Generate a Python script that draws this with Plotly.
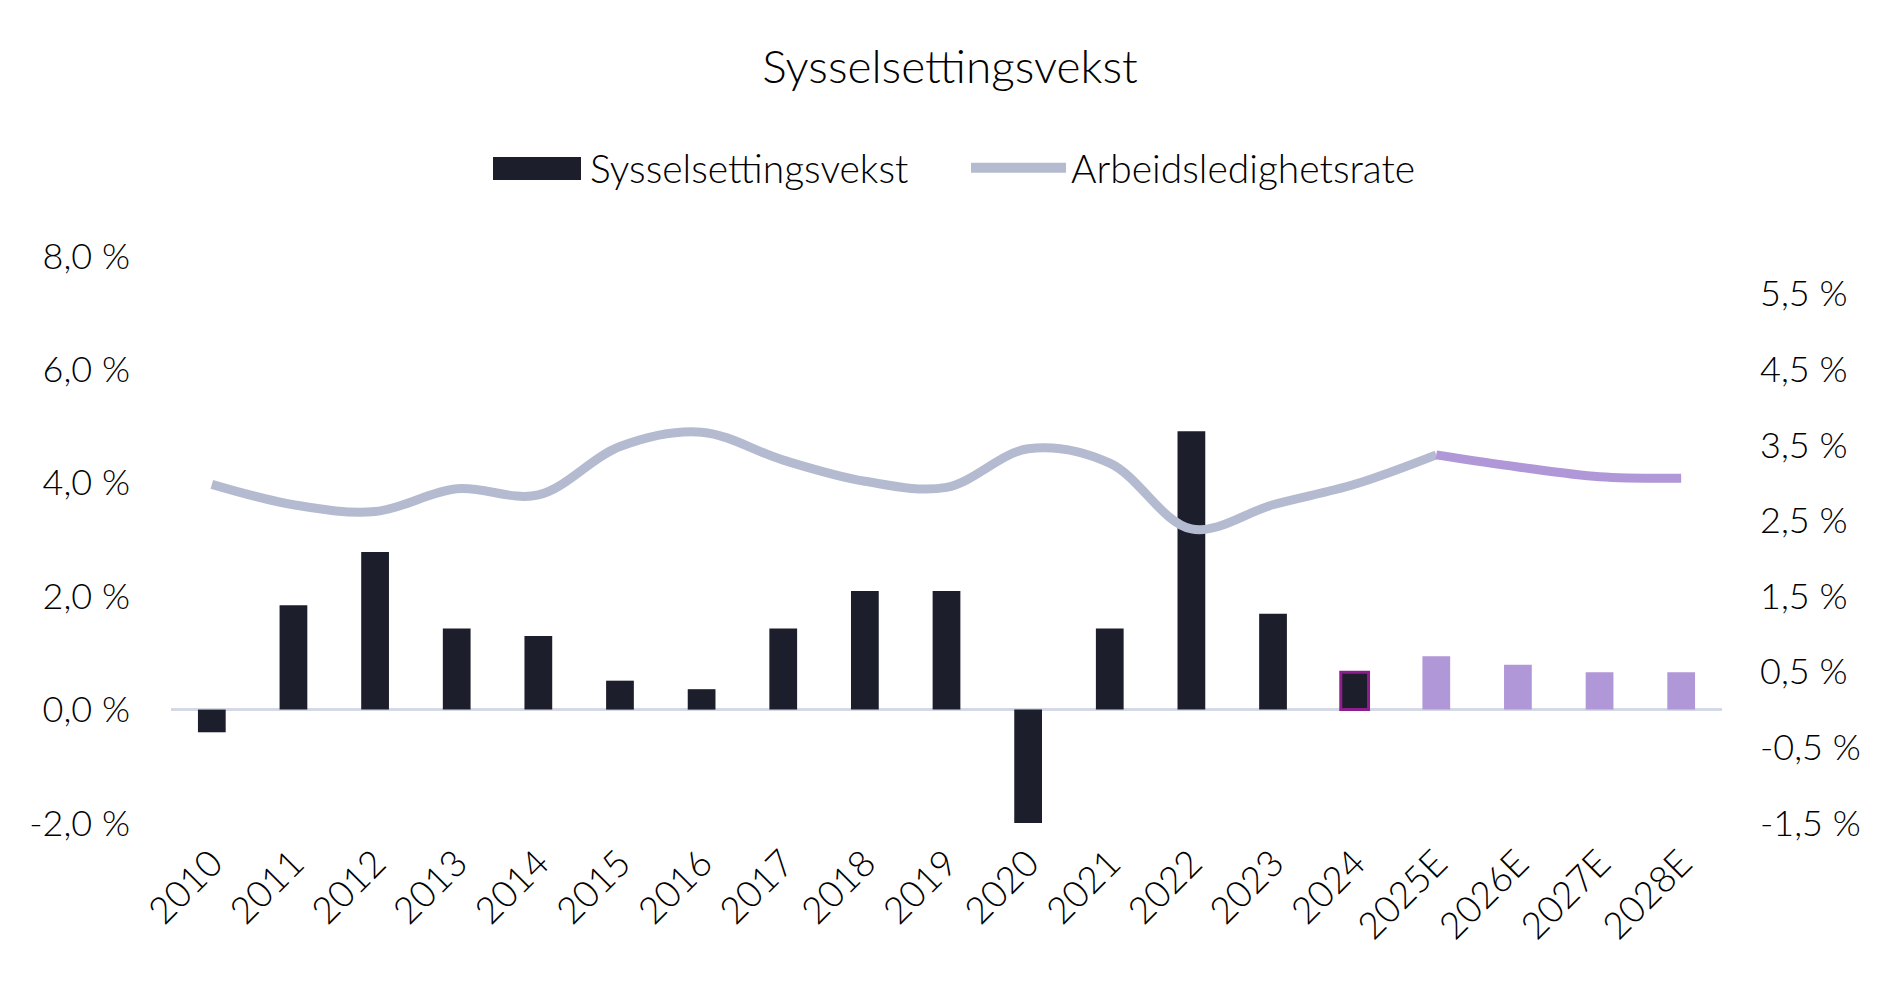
import plotly.graph_objects as go

years = ["2010", "2011", "2012", "2013", "2014", "2015", "2016", "2017", "2018", "2019",
         "2020", "2021", "2022", "2023", "2024", "2025E", "2026E", "2027E", "2028E"]
employment_growth = [-0.4, 1.84, 2.78, 1.43, 1.30, 0.51, 0.36, 1.43, 2.09, 2.09,
                     -2.0, 1.43, 4.91, 1.69, 0.66, 0.94, 0.79, 0.66, 0.66]
unemployment_rate = [2.98, 2.71, 2.62, 2.92, 2.84, 3.48, 3.67, 3.30, 3.02, 2.94,
                     3.45, 3.26, 2.39, 2.71, 2.98, 3.37, 3.21, 3.08, 3.06]
n_actual = 15  # 2010-2024 actual, rest forecast

left_ticks = [-2, 0, 2, 4, 6, 8]
left_labels = ["-2,0 %", "0,0 %", "2,0 %", "4,0 %", "6,0 %", "8,0 %"]
right_ticks = [-1.5, -0.5, 0.5, 1.5, 2.5, 3.5, 4.5, 5.5]
right_labels = ["-1,5 %", "-0,5 %", "0,5 %", "1,5 %", "2,5 %", "3,5 %", "4,5 %", "5,5 %"]

DARK = "#1C1E2B"
PURPLE = "#B097D8"
GREY = "#B4BBD0"
MAGENTA = "#8E1E8E"
FONT = "Lato"

W, H = 1884, 980
ML, MR, MT, MB = 163, 170, 248, 165
PW, PH = W - ML - MR, H - MT - MB


def px_to_paper_x(px):
    return (px - ML) / PW


def px_to_paper_y(py):
    return (H - MB - py) / PH


fig = go.Figure()

# actual bars
fig.add_trace(go.Bar(
    x=years[:n_actual], y=employment_growth[:n_actual],
    marker=dict(color=DARK,
                line=dict(color=[MAGENTA if i == n_actual - 1 else DARK for i in range(n_actual)],
                          width=[3 if i == n_actual - 1 else 0 for i in range(n_actual)])),
    width=0.34, name="Sysselsettingsvekst", showlegend=False, yaxis="y",
))
# forecast bars
fig.add_trace(go.Bar(
    x=years[n_actual:], y=employment_growth[n_actual:],
    marker=dict(color=PURPLE, line=dict(width=0)),
    width=0.34, name="Sysselsettingsvekst (E)", showlegend=False, yaxis="y",
))
# unemployment line actual
fig.add_trace(go.Scatter(
    x=years[:n_actual + 1], y=unemployment_rate[:n_actual + 1], mode="lines",
    line=dict(color=GREY, width=9, shape="spline", smoothing=1.0),
    name="Arbeidsledighetsrate", showlegend=False, yaxis="y2",
))
# unemployment line forecast
fig.add_trace(go.Scatter(
    x=years[n_actual:], y=unemployment_rate[n_actual:], mode="lines",
    line=dict(color=PURPLE, width=9, shape="spline", smoothing=1.0),
    name="Arbeidsledighetsrate (E)", showlegend=False, yaxis="y2",
))
# legend entries
fig.add_trace(go.Scatter(
    x=[None], y=[None], mode="lines", line=dict(color="rgba(0,0,0,0)", width=10),
    name="Sysselsettingsvekst", yaxis="y",
))
fig.add_trace(go.Scatter(
    x=[None], y=[None], mode="lines", line=dict(color=GREY, width=10),
    name="Arbeidsledighetsrate", yaxis="y2",
))

# rectangular legend key for the bar series (page px 493..581 x 157..180)
fig.add_shape(type="rect", xref="paper", yref="paper",
              x0=px_to_paper_x(493 - 8), x1=px_to_paper_x(581 - 8),
              y0=px_to_paper_y(157 - 8), y1=px_to_paper_y(180 - 8),
              fillcolor=DARK, line=dict(width=0), layer="above")

fig.update_layout(
    width=W, height=H,
    paper_bgcolor="white", plot_bgcolor="white",
    margin=dict(l=ML, r=MR, t=MT, b=MB, autoexpand=False),
    barmode="overlay",
    font=dict(family=FONT, size=36, color="#000000", weight=300),
    title=dict(text="Sysselsettingsvekst", x=0.5, xanchor="center", y=1 - 59 / H, yanchor="middle",
               font=dict(family=FONT, size=46, color="#000000", weight=300)),
    legend=dict(orientation="h", x=(494 - 8 - 9) / W, xanchor="left", xref="container",
                y=1 - 160 / H, yref="container", bgcolor="rgba(0,0,0,0)",
                yanchor="middle", itemwidth=95, entrywidth=371, entrywidthmode="pixels",
                font=dict(size=39, weight=300), traceorder="normal", itemsizing="trace"),
    xaxis=dict(type="category", categoryorder="array", categoryarray=years,
               tickangle=-45, showgrid=False, showline=False, ticks="",
               ticklabelstandoff=10,
               tickfont=dict(size=37, weight=300), range=[-0.5, len(years) - 0.5]),
    yaxis=dict(range=[-2, 8], tickvals=left_ticks, ticktext=left_labels, showgrid=False,
               zeroline=True, zerolinecolor="#D5D8E5", zerolinewidth=3, showline=False,
               ticks="", ticklabelstandoff=40, tickfont=dict(size=36, weight=300)),
    yaxis2=dict(range=[-1.5, 6.0], tickvals=right_ticks, ticktext=right_labels, overlaying="y",
                side="right", showgrid=False, zeroline=False, showline=False, ticks="",
                ticklabelstandoff=37, tickfont=dict(size=36, weight=300)),
)

fig.write_html("out.html")
